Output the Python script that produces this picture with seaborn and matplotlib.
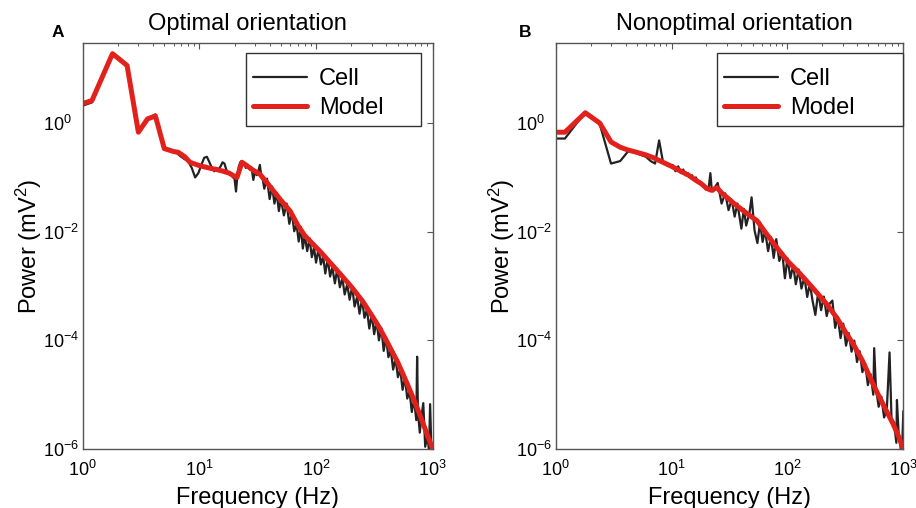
import numpy as np
import pandas as pd
import matplotlib
matplotlib.use("Agg")
import matplotlib.pyplot as plt
import seaborn as sns
from matplotlib.ticker import LogLocator, NullLocator, NullFormatter

# ---- data (frequency in Hz, power in mV^2) ----
# Panel A: optimal orientation
model_a_freq = [1, 1.2, 1.8, 2.4, 3.0, 3.6, 4.2, 5.0, 6.0, 6.6, 7.5, 8.3, 10, 12, 14, 16, 18, 20, 21, 23.2,
                26, 29, 33, 38, 43, 50, 60, 70, 80, 95, 110, 130, 160, 200, 250, 300, 350, 400, 500, 600,
                700, 800, 900, 1000]
model_a_power = [2.3, 2.6, 19, 11.5, 0.68, 1.2, 1.35, 0.34, 0.3, 0.29, 0.24, 0.19, 0.165, 0.15, 0.14, 0.13,
                 0.12, 0.105, 0.1, 0.19, 0.16, 0.135, 0.115, 0.08, 0.057, 0.038, 0.024, 0.013, 0.0085, 0.0058,
                 0.0042, 0.0028, 0.0017, 0.00098, 0.00053, 0.00029, 0.00017, 0.0001, 4.0e-5, 1.65e-5,
                 7.5e-6, 3.6e-6, 1.8e-6, 1e-6]

cell_a_freq = [1, 1.2, 1.8, 2.4, 3.0, 3.6, 4.2, 5.0, 5.6, 6.2, 6.8, 7.4, 8.0, 8.6, 9.2, 9.8, 10.4, 11.0,
               11.6, 12.2, 12.8, 13.4, 14.0, 14.6, 15.2, 15.8, 16.4, 17.0, 17.6, 18.2, 18.8, 19.4, 20.0,
               20.6, 21.2, 21.8, 22.4, 23.0, 23.6, 24.2, 25, 26, 27, 28, 29, 30, 31, 32, 33, 34, 35,
               36, 38, 40, 42, 44, 46, 48, 50, 53, 56, 59, 62, 65, 68, 71, 74, 77, 80, 84, 88, 92, 96,
               100, 105, 110, 115, 120, 126, 132, 138, 145, 152, 160, 168, 176, 185, 194, 204, 214, 225,
               236, 248, 260, 273, 286, 300, 315, 330, 346, 363, 380, 398, 417, 437, 458, 480, 503, 527,
               552, 578, 605, 633, 662, 692, 723, 735, 747, 775, 800, 830, 862, 900, 930, 950, 975, 1000]
cell_a_power = [2.1, 2.4, 19.5, 11.5, 0.68, 1.2, 1.45, 0.36, 0.32, 0.3, 0.25, 0.22, 0.2, 0.15, 0.1, 0.12,
                0.17, 0.23, 0.24, 0.19, 0.15, 0.13, 0.15, 0.14, 0.16, 0.19, 0.18, 0.14, 0.12, 0.125, 0.11,
                0.1, 0.095, 0.055, 0.11, 0.16, 0.19, 0.2, 0.19, 0.18, 0.15, 0.16, 0.14, 0.15, 0.09, 0.13,
                0.11, 0.13, 0.17, 0.1, 0.09,
                0.062, 0.095, 0.04, 0.068, 0.033, 0.052, 0.024, 0.040, 0.02, 0.033, 0.014, 0.0225,
                0.0102, 0.0139, 0.0066, 0.0122, 0.0049, 0.0085, 0.0044, 0.0076, 0.0034, 0.0051, 0.0027,
                0.0049, 0.0025, 0.0035, 0.0017, 0.0032, 0.0015, 0.0022, 0.00112, 0.00206, 0.00095,
                0.0014, 0.0007, 0.00108, 0.00056, 0.00097, 0.00042, 0.00063, 0.00031, 0.00058, 0.00026,
                0.00037, 0.000165, 0.0003, 0.00013, 0.000228, 0.0001, 0.000169, 6.4e-5, 0.000114, 4.9e-5,
                6.6e-5, 2.9e-5, 4.7e-5, 2.1e-5, 2.9e-5, 1.23e-5, 2.1e-5, 8.5e-6, 1.15e-5, 4.8e-6, 8.3e-6,
                3.4e-6, 5e-5, 4.7e-6, 2.0e-6, 3.9e-6, 7e-6, 1.1e-6, 1.68e-6, 9.5e-7, 6.7e-6, 9e-7, 1e-6]

# Panel B: nonoptimal orientation
model_b_freq = [1, 1.2, 1.8, 2.4, 3.0, 3.6, 4.2, 5, 6, 7, 8, 10, 12, 14, 16, 18, 20, 22, 24.6, 27, 30, 34,
                40, 47, 54.5, 65, 81, 100, 128, 160, 219, 270, 325, 370, 444, 520, 600, 700, 815, 900, 1000]
model_b_power = [0.68, 0.68, 1.55, 1.0, 0.45, 0.36, 0.32, 0.29, 0.26, 0.23, 0.2, 0.16, 0.13, 0.11, 0.09,
                 0.077, 0.063, 0.058, 0.065, 0.052, 0.043, 0.034, 0.026, 0.02, 0.016, 0.0095, 0.0051,
                 0.0029, 0.0017, 0.001, 0.00046, 0.00025, 0.00013, 8.5e-5, 4.2e-5, 2.0e-5, 1.05e-5, 5.5e-6,
                 2.9e-6, 1.8e-6, 1e-6]

cell_b_freq = [1, 1.2, 1.8, 2.4, 3.0, 3.6, 4.2, 4.8, 5.4, 6.0, 6.6, 7.2, 7.8, 8.4, 9.0, 9.6, 10.2, 10.8,
               11.4, 12.0, 12.6, 13.2, 13.8, 14.4, 15.0, 15.6, 16.2, 16.8, 17.4, 18, 18.6, 19.2, 19.8,
               20.4, 21.0, 21.6, 22.2, 22.8, 23.4, 24.0,
               25, 27, 29, 31, 33, 35, 37, 40, 42, 44, 47, 49, 52, 55, 58, 61, 64, 68, 72, 76, 80, 85, 90,
               95, 100, 106, 112, 118, 125, 132, 140, 148, 156, 165, 174, 184, 195, 206, 218, 230, 244,
               258, 272, 287, 303, 320, 338, 357, 377, 398, 420, 443, 468, 494, 521, 550, 560, 580, 612,
               646, 682, 720, 760, 790, 830, 870, 880, 910, 950, 980, 1000]
cell_b_power = [0.52, 0.52, 1.6, 0.95, 0.18, 0.2, 0.3, 0.29, 0.26, 0.24, 0.2, 0.18, 0.48, 0.2, 0.17, 0.16,
                0.17, 0.13, 0.16, 0.12, 0.14, 0.11, 0.12, 0.1, 0.11, 0.09, 0.1, 0.08, 0.085, 0.075, 0.07,
                0.068, 0.06, 0.062, 0.07, 0.12, 0.06, 0.055, 0.06, 0.07,
                0.079, 0.033, 0.051, 0.025, 0.039, 0.019, 0.033, 0.0114, 0.0264, 0.013, 0.0224, 0.043,
                0.0105, 0.0062, 0.0149, 0.0065, 0.0107, 0.0044, 0.008, 0.0033, 0.0073, 0.0029, 0.0042,
                0.00139, 0.00325, 0.0014, 0.00243, 0.00108, 0.00201, 0.0009, 0.00147, 0.00063, 0.00111,
                0.00052, 0.000295, 0.00077, 0.00036, 0.00064, 0.00028, 0.00047, 0.00054, 0.00017,
                0.000271, 0.00011, 0.000203, 8e-5, 0.000136, 6.2e-5, 9.9e-5, 4e-5, 6.3e-5, 2.6e-5,
                3.77e-5, 1.5e-5, 2.4e-5, 1.0e-5, 7.2e-5, 1.31e-5, 6e-6, 9.2e-6, 3.8e-6, 5.4e-6, 6e-5,
                3.7e-6, 3.1e-6, 1.3e-6, 8e-6, 1.95e-6, 1.0e-6, 1.4e-6, 5e-6]

titles = ["Optimal orientation", "Nonoptimal orientation"]
letters = ["A", "B"]

# ---- style ----
sns.set_theme(style="white")
plt.rcParams["font.family"] = ["Liberation Sans", "DejaVu Sans"]
plt.rcParams["mathtext.fontset"] = "custom"
plt.rcParams["mathtext.rm"] = "Liberation Sans"
plt.rcParams["mathtext.it"] = "Liberation Sans:italic"
plt.rcParams["mathtext.bf"] = "Liberation Sans:bold"
plt.rcParams["text.color"] = "black"
plt.rcParams["axes.labelcolor"] = "black"
plt.rcParams["xtick.labelcolor"] = "black"
plt.rcParams["ytick.labelcolor"] = "black"

cell_color = "#222222"
model_color = "#e3211c"
edge = "#555555"

fig = plt.figure(figsize=(9.16, 5.08), dpi=100)
ax_a = fig.add_axes([0.0903, 0.1161, 0.3821, 0.7998])
ax_b = fig.add_axes([0.6067, 0.1161, 0.3795, 0.7998])

panels = [
    (ax_a, cell_a_freq, cell_a_power, model_a_freq, model_a_power, (0.4666, 0.5), 0.47),
    (ax_b, cell_b_freq, cell_b_power, model_b_freq, model_b_power, (0.464, 0.535), 0.515),
]

for i, (ax, cf, cp, mf, mp, (lx, lw), tx) in enumerate(panels):
    cell = pd.DataFrame({"freq": cf, "power": cp})
    model = pd.DataFrame({"freq": mf, "power": mp})
    sns.lineplot(data=cell, x="freq", y="power", ax=ax, color=cell_color, lw=1.6, label="Cell")
    sns.lineplot(data=model, x="freq", y="power", ax=ax, color=model_color, lw=3.6, label="Model")

    ax.set_xscale("log")
    ax.set_yscale("log")
    ax.set_xlim(1, 1000)
    ax.set_ylim(1e-6, 10 ** 1.48)
    ax.set_xticks([1, 10, 100, 1000])
    ax.xaxis.set_minor_locator(LogLocator(base=10, subs=np.arange(2, 10)))
    ax.xaxis.set_minor_formatter(NullFormatter())
    ax.set_yticks([1e-6, 1e-4, 1e-2, 1e0])
    ax.yaxis.set_minor_locator(NullLocator())
    ax.tick_params(which="both", direction="in", top=True, right=True, color=edge, labelsize=13)
    ax.tick_params(axis="x", pad=8)
    # MATLAB-like left aligned y tick labels
    ax.tick_params(axis="y", pad=28.8)
    for lab in ax.get_yticklabels():
        lab.set_horizontalalignment("left")
    ax.tick_params(which="major", length=4, width=0.8)
    ax.tick_params(which="minor", length=2.2, width=0.7)
    for s in ax.spines.values():
        s.set_color(edge)
        s.set_linewidth(1.0)

    ax.set_xlabel("Frequency (Hz)", fontsize=17, labelpad=5)
    ax.set_ylabel("Power (mV$^2$)", fontsize=17, labelpad=-1)
    ax.set_title(titles[i], fontsize=17, x=tx, pad=9)

    leg = ax.legend(loc="upper left", bbox_to_anchor=(lx, 0.7974, lw, 0.1773), mode="expand",
                    borderaxespad=0, fontsize=17, handlelength=2.3, handletextpad=0.5,
                    labelspacing=0.3, borderpad=0.3, fancybox=False, framealpha=1,
                    title=" ", title_fontsize=1)
    leg.get_frame().set_edgecolor("#333333")
    leg.get_frame().set_linewidth(1.0)

fig.text(0.0628, 0.936, letters[0], fontsize=12.5, fontweight="bold", ha="center", va="center")
fig.text(0.5731, 0.936, letters[1], fontsize=12.5, fontweight="bold", ha="center", va="center")

fig.savefig("out.png", dpi=100, facecolor="white")
